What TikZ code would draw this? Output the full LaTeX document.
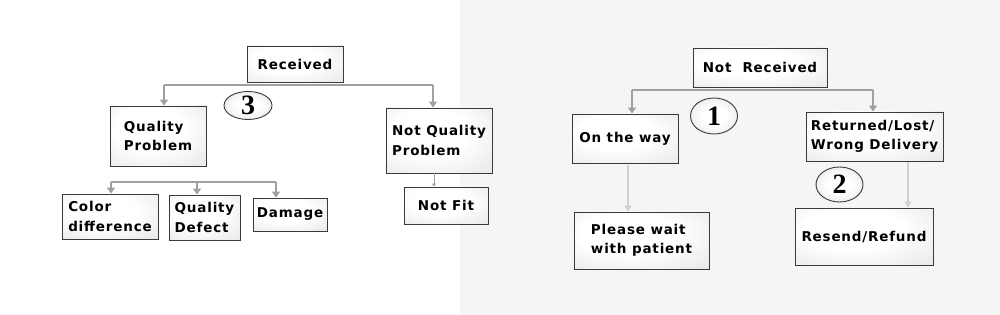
\documentclass[tikz,border=0pt]{standalone}
\usepackage{fontspec}
\newfontfamily\boxfont[LetterSpace=6]{DejaVu Sans}
\newfontfamily\numfont{Liberation Serif}
\usetikzlibrary{arrows.meta,shapes.geometric}
\definecolor{bgR}{HTML}{F5F5F5}
\definecolor{edge}{HTML}{3A3A3A}
\definecolor{arrC}{HTML}{A0A0A0}
\definecolor{arrL}{HTML}{D0D0D0}
\pgfdeclareradialshading{boxshade}{\pgfpoint{-6bp}{8bp}}{color(0bp)=(white); color(18bp)=(white); color(50bp)=(black!13); color(75bp)=(black!22)}
\pgfdeclareradialshading{ellshade}{\pgfpoint{0bp}{0bp}}{color(0bp)=(white); color(12bp)=(white); color(50bp)=(black!18); color(75bp)=(black!25)}
\tikzset{
  box/.style={draw=edge, line width=0.9pt, inner sep=0pt, align=left,
    shading=boxshade,
    font=\boxfont\bfseries\fontsize{13.5}{19.5}\selectfont},
  numell/.style={ellipse, draw=edge, line width=0.9pt, inner sep=0pt,
    shading=ellshade,
    font=\numfont\bfseries\fontsize{28}{28}\selectfont},
  barline/.style={draw=arrC, line width=2.2pt},
  arr/.style={draw=arrC, line width=2.2pt, -{Triangle[width=8pt,length=6pt]}},
  arrlight/.style={draw=arrL, line width=1.6pt, -{Triangle[width=7pt,length=6pt]}},
  arrthin/.style={draw=arrC, line width=1pt, -{Triangle[width=4pt,length=3pt]}}
}
\begin{document}
\begin{tikzpicture}[x=1pt,y=-1pt]
\useasboundingbox (0,0) rectangle (1000,315);
\fill[white] (0,0) rectangle (460,315);
\fill[bgR] (460,0) rectangle (1000,315);

% left tree
\node[box, minimum width=96pt, minimum height=36pt] (rec) at (295,64) {Received};
\node[box, minimum width=96pt, minimum height=60pt] (qp) at (158,136) {Quality\\Problem};
\node[box, minimum width=106pt, minimum height=65pt] (nqp) at (439,140.5) {Not Quality\\Problem};
\node[box, minimum width=84pt, minimum height=37pt] (nf) at (446,205.5) {Not Fit};
\node[box, minimum width=96pt, minimum height=45pt] (cd) at (110,216.5) {Color\\difference};
\node[box, minimum width=71pt, minimum height=45pt] (qd) at (204.5,217.5) {Quality\\Defect};
\node[box, minimum width=74pt, minimum height=33pt] (dm) at (290,214.5) {Damage};
\node[numell, minimum width=48pt, minimum height=28pt] (e3) at (248,105.5) {3};

\coordinate (b1) at (164,85);
\coordinate (b2) at (433,85);
\draw[barline] (b1) -- (b2);
\draw[arr] (b1) -- (b1 |- qp.north);
\draw[arr] (b2) -- (b2 |- nqp.north);
\coordinate (nfs) at (434,173);
\draw[arrthin] (nfs) -- (nfs |- nf.north);

\coordinate (c1) at (111,182);
\coordinate (c2) at (197,182);
\coordinate (c3) at (276,182);
\draw[barline] (c1) -- (c3);
\draw[arr] (c1) -- (c1 |- cd.north);
\draw[arr] (c2) -- (c2 |- qd.north);
\draw[arr] (c3) -- (c3 |- dm.north);

% right tree
\node[box, minimum width=134pt, minimum height=39pt] (nr) at (760,67.5) {Not~ Received};
\node[box, minimum width=106pt, minimum height=49pt] (otw) at (625,138.5) {On the way};
\node[box, minimum width=137pt, minimum height=49pt] (rld) at (874.5,136.5) {Returned/Lost/\\Wrong Delivery};
\node[box, minimum width=135pt, minimum height=57pt] (pw) at (641.5,240.5) {Please wait\\with patient};
\node[box, minimum width=138pt, minimum height=57pt] (rr) at (864,236.5) {Resend/Refund};
\node[numell, minimum width=47pt, minimum height=36pt] (e1) at (714,116) {1};
\node[numell, minimum width=47pt, minimum height=35pt] (e2) at (839.5,184.5) {2};

\coordinate (d1) at (632,90);
\coordinate (d2) at (873,90);
\draw[barline] (d1) -- (d2);
\draw[arr] (d1) -- (d1 |- otw.north);
\draw[arr] (d2) -- (d2 |- rld.north);
\coordinate (o1) at (628,165);
\draw[arrlight] (o1) -- (o1 |- pw.north);
\coordinate (o2) at (908,162);
\draw[arrlight] (o2) -- (o2 |- rr.north);
\end{tikzpicture}
\end{document}
